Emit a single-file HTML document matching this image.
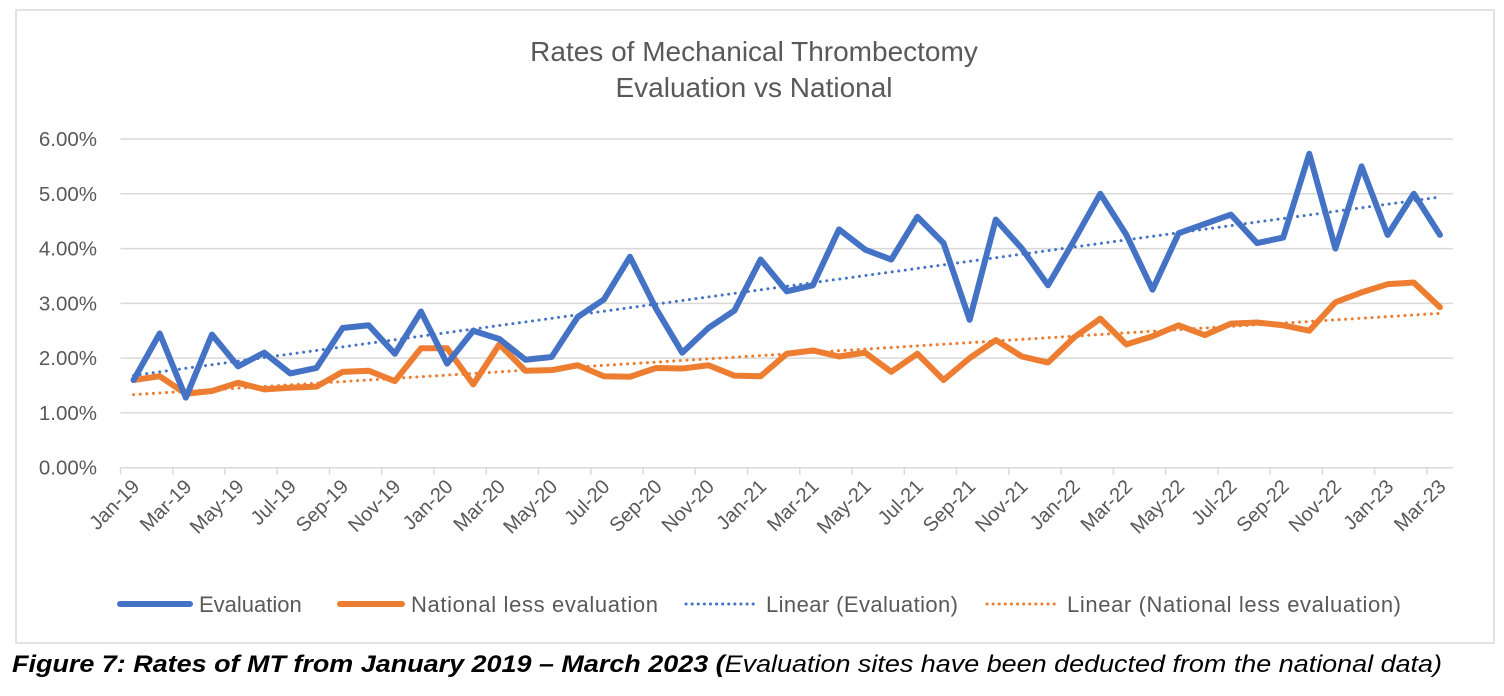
<!DOCTYPE html>
<html><head><meta charset="utf-8"><style>
body{margin:0;background:#fff;width:1504px;height:696px;overflow:hidden;font-family:"Liberation Sans",sans-serif}
</style></head><body>
<svg width="1504" height="696" id="svg" style="position:absolute;left:0;top:0">
<rect x="16" y="10" width="1478" height="633" fill="#fff" stroke="#d9d9d9" stroke-width="1.5"/>
<text x="754" y="61" text-anchor="middle" font-size="28" fill="#595959">Rates of Mechanical Thrombectomy</text>
<text x="754" y="97" text-anchor="middle" font-size="28" fill="#595959">Evaluation vs National</text>
<g id="grid"></g><g id="xax"></g><g id="series"></g>
<g>
<line x1="120" y1="604" x2="190" y2="604" stroke="#4472c4" stroke-width="6" stroke-linecap="round"/>
<text x="199" y="612" font-size="22" fill="#595959">Evaluation</text>
<line x1="340" y1="604" x2="402" y2="604" stroke="#ed7d31" stroke-width="6" stroke-linecap="round"/>
<text x="411" y="612" font-size="22" fill="#595959" textLength="247">National less evaluation</text>
<line x1="686" y1="604" x2="757" y2="604" stroke="#4472c4" stroke-width="3" stroke-dasharray="0.1 6" stroke-linecap="round"/>
<text x="766" y="612" font-size="22" fill="#595959" textLength="192">Linear (Evaluation)</text>
<line x1="987" y1="604" x2="1058" y2="604" stroke="#ed7d31" stroke-width="3" stroke-dasharray="0.1 6" stroke-linecap="round"/>
<text x="1067" y="612" font-size="22" fill="#595959" textLength="334">Linear (National less evaluation)</text>
</g>
<text x="12" y="672" font-size="24" fill="#000" font-style="italic" textLength="1430" lengthAdjust="spacingAndGlyphs"><tspan font-weight="bold">Figure 7:  Rates of MT from January 2019 – March 2023 (</tspan>Evaluation sites have been deducted from the national data)</text>
</svg>
<script>
const months=["Jan","Feb","Mar","Apr","May","Jun","Jul","Aug","Sep","Oct","Nov","Dec"];
const categories=[];for(let y=19;y<=23;y++)for(let m=0;m<12;m++){if(y===23&&m>2)break;categories.push(months[m]+"-"+y);}
const evaluation=[1.6,2.45,1.28,2.43,1.85,2.1,1.72,1.82,2.55,2.6,2.08,2.85,1.9,2.5,2.35,1.97,2.02,2.75,3.07,3.85,2.9,2.1,2.55,2.87,3.8,3.22,3.33,4.35,3.98,3.8,4.58,4.1,2.7,4.53,4.0,3.33,4.15,5.0,4.25,3.25,4.28,4.45,4.62,4.1,4.2,5.73,4.0,5.5,4.25,5.0,4.25];
const national=[1.6,1.67,1.35,1.4,1.55,1.43,1.46,1.48,1.75,1.77,1.58,2.18,2.18,1.52,2.25,1.77,1.78,1.87,1.67,1.66,1.82,1.81,1.87,1.68,1.67,2.08,2.14,2.03,2.1,1.75,2.08,1.6,2.0,2.33,2.03,1.92,2.38,2.72,2.25,2.4,2.6,2.42,2.63,2.65,2.6,2.5,3.02,3.2,3.35,3.38,2.93];
const yTicks=[0,1,2,3,4,5,6];
const NS="http://www.w3.org/2000/svg";
const L=120.5,R=1453,T=139,B=467.7,n=categories.length,cw=(R-L)/n;
const X=i=>L+cw*(i+0.5), Y=v=>B-(v/6)*(B-T);
function mk(t,a,p){const e=document.createElementNS(NS,t);for(const k in a)e.setAttribute(k,a[k]);p.appendChild(e);return e;}
const grid=document.getElementById('grid');
yTicks.forEach(v=>{
 const l=mk('line',{x1:L,x2:R,y1:Y(v),y2:Y(v),stroke:'#d9d9d9','stroke-width':1.5},grid);
 
 
 const t=mk('text',{x:97,y:Y(v)+7,'text-anchor':'end','font-size':20.5,fill:'#595959'},grid);
 t.textContent=v.toFixed(2)+'%';
 
 
});
const xax=document.getElementById('xax');
for(let i=0;i<=n;i+=2){const x=L+cw*i;mk('line',{x1:x,x2:x,y1:B,y2:B+7,stroke:'#d9d9d9','stroke-width':1.5},xax);}
categories.forEach((c,i)=>{if(i%2)return;
 const t=mk('text',{x:0,y:0,'text-anchor':'end','font-size':20,fill:'#595959',transform:`translate(${X(i)+7},${B+20}) rotate(-45)`},xax);
 t.textContent=c;
 
 
});
const sg=document.getElementById('series');
function trend(arr){const N=arr.length;let sx=0,sy=0,sxy=0,sxx=0;arr.forEach((v,i)=>{sx+=i;sy+=v;sxy+=i*v;sxx+=i*i;});const b=(N*sxy-sx*sy)/(N*sxx-sx*sx),a=(sy-b*sx)/N;return[a,a+b*(N-1)];}
function draw(arr,col,name){
 const [a,b]=trend(arr);
 const tl=mk('line',{x1:X(0),y1:Y(a),x2:X(n-1),y2:Y(b),stroke:col,'stroke-width':3,'stroke-dasharray':'0.1 6.5','stroke-linecap':'round'},sg);
 
 
 const p=mk('polyline',{points:arr.map((v,i)=>X(i)+','+Y(v)).join(' '),fill:'none',stroke:col,'stroke-width':6,'stroke-linejoin':'round','stroke-linecap':'round'},sg);
 
 
}
draw(national,'#ed7d31','national');
draw(evaluation,'#4472c4','evaluation');
</script>
</body></html>
